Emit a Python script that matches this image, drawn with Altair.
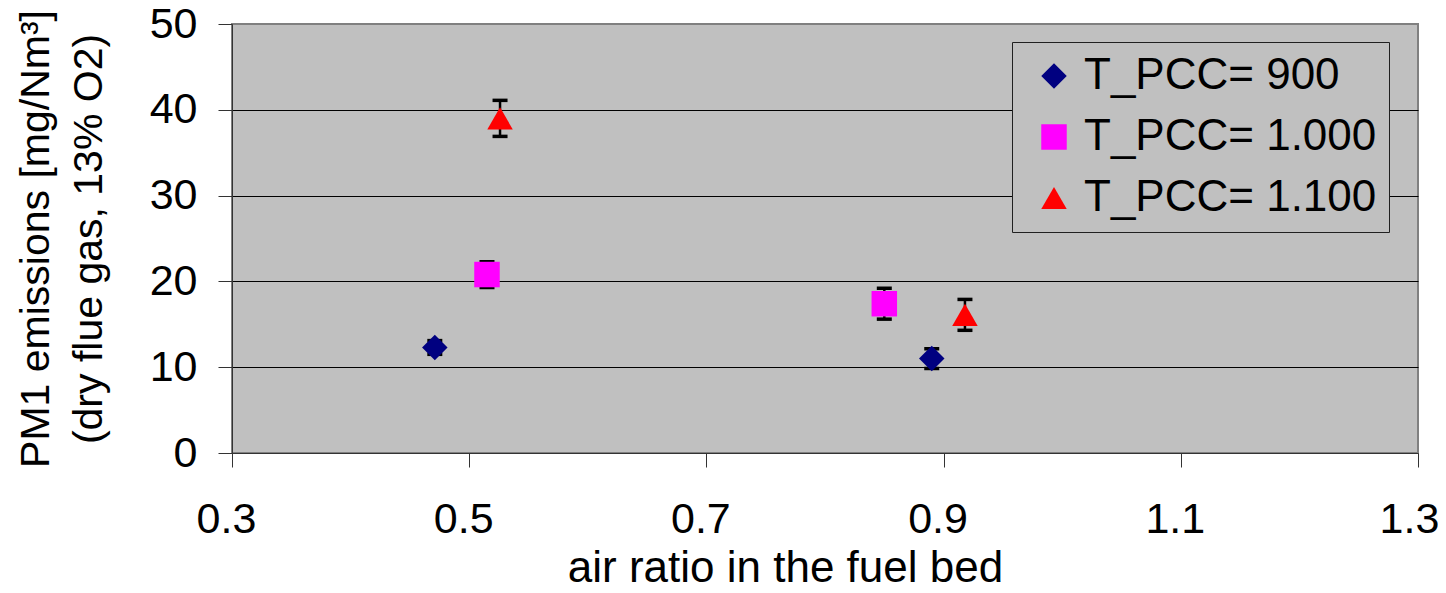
import altair as alt
import pandas as pd

series = ["T_PCC= 900", "T_PCC= 1.000", "T_PCC= 1.100"]
air_900 = [0.471, 0.890]
pm_900 = [12.3, 11.0]
err_900 = [0.8, 1.15]
air_1000 = [0.515, 0.850]
pm_1000 = [20.8, 17.4]
err_1000 = [1.5, 1.8]
air_1100 = [0.526, 0.918]
pm_1100 = [39.0, 16.1]
err_1100 = [2.1, 1.8]
x_ticks = [0.3, 0.5, 0.7, 0.9, 1.1, 1.3]
y_ticks = [0, 10, 20, 30, 40, 50]
colors = ["#000080", "#FF00FF", "#FF0000"]
shapes = ["diamond", "square", "triangle-up"]

rows = []
for name, xs, ys, es in [
    (series[0], air_900, pm_900, err_900),
    (series[1], air_1000, pm_1000, err_1000),
    (series[2], air_1100, pm_1100, err_1100),
]:
    for x, y, e in zip(xs, ys, es):
        rows.append({"series": name, "air": x, "pm": y, "lo": y - e, "hi": y + e})
df = pd.DataFrame(rows)

FONT = "Liberation Sans"

xenc = alt.X(
    "air:Q",
    scale=alt.Scale(domain=[0.3, 1.3], nice=False, zero=False),
    axis=alt.Axis(
        values=x_ticks, format=".1f", title="air ratio in the fuel bed",
        grid=False, tickSize=14, tickColor="#333333", domainColor="#333333",
        labelFontSize=43, labelPadding=31, labelFont=FONT, labelColor="black",
        labelOffset={"condition": {"test": "datum.value > 1.29", "value": -9}, "value": -6},
        titleFontSize=44, titleFont=FONT, titleFontWeight="normal", titleColor="black",
        titleX=553, titleY=128, titleBaseline="alphabetic", titleAnchor="start", titleAlign="center",
        labelFlush=False, labelOverlap=False,
    ),
)
yaxis = alt.Axis(
    values=y_ticks, title=["PM1 emissions [mg/Nm³]", "(dry flue gas, 13% O2)"],
    grid=True,
    gridColor={"condition": {"test": "datum.value === 50 || datum.value === 0", "value": "#808080"}, "value": "#000000"},
    gridWidth=1,
    tickSize=14, tickColor="#333333", domainColor="#333333",
    labelFontSize=43, labelPadding=21, labelFont=FONT, labelColor="black",
    titleFontSize=41, titleFont=FONT, titleFontWeight="normal", titleColor="black",
    titleX=-184, titleY=214.5, titleAngle=270, titleAlign="center",
    titleBaseline="alphabetic", titleLineHeight=53, titleAnchor="start",
    labelFlush=False,
)

base = alt.Chart(df)

rule = base.mark_rule(color="black", strokeWidth=2.5).encode(
    x=xenc,
    y=alt.Y("lo:Q", scale=alt.Scale(domain=[0, 50], nice=False), axis=yaxis),
    y2="hi:Q",
)
cap_lo = base.mark_tick(color="black", size=15, thickness=3.5, orient="horizontal", opacity=1).encode(
    x="air:Q", y="lo:Q"
)
cap_hi = base.mark_tick(color="black", size=15, thickness=3.5, orient="horizontal", opacity=1).encode(
    x="air:Q", y="hi:Q"
)
pts = base.mark_point(filled=True, opacity=1, size=650, strokeWidth=0).encode(
    x="air:Q",
    y="pm:Q",
    color=alt.Color("series:N", scale=alt.Scale(domain=series, range=colors), legend=alt.Legend(title=None)),
    shape=alt.Shape("series:N", scale=alt.Scale(domain=series, range=shapes), legend=alt.Legend(title=None)),
)

chart = (
    alt.layer(rule, cap_lo, cap_hi, pts)
    .properties(
        width=1186, height=429,
        autosize=alt.AutoSizeParams(type="none"),
        padding={"left": 224, "top": 16, "right": 20, "bottom": 130},
        background="white",
    )
    .configure_view(fill="#C0C0C0", stroke="#808080", strokeWidth=2)
    .configure_legend(
        orient="none", legendX=780, legendY=18,
        fillColor="#C0C0C0", strokeColor="#202020", strokeWidth=1,
        padding=12, labelFontSize=44, labelFont=FONT, labelColor="black",
        symbolSize=650, rowPadding=17, labelOffset=8, symbolOffset=8,
        symbolStrokeWidth=0, symbolOpacity=1, labelLimit=0,
    )
)

chart.save("out.html", embed_options={"renderer": "svg", "actions": False})
